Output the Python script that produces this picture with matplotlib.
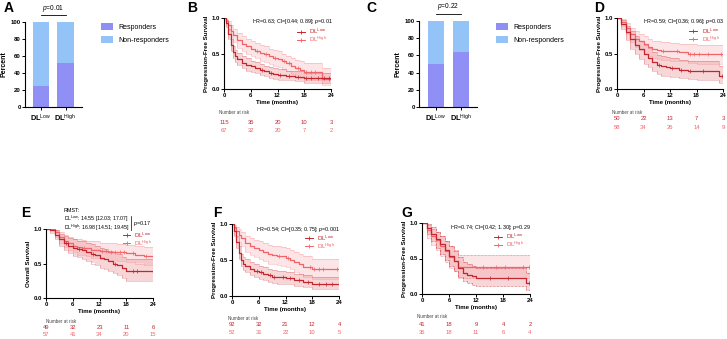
import matplotlib
matplotlib.use("Agg")
import numpy as np
import matplotlib.pyplot as plt
import matplotlib.transforms as mtransforms
from matplotlib.lines import Line2D
from matplotlib.patches import Patch

plt.rcParams['font.family'] = ['Liberation Sans', 'DejaVu Sans']
plt.rcParams['mathtext.fontset'] = 'custom'
plt.rcParams['mathtext.rm'] = 'Liberation Sans'
plt.rcParams['mathtext.bf'] = 'Liberation Sans:bold'
plt.rcParams['mathtext.it'] = 'Liberation Sans:italic'

W, H = 727, 339

# ---------------- data ----------------
groups = ["Low", "High"]
A_resp = [25, 52]
C_resp = [50, 64]
A_p = "p=0.01"
C_p = "p=0.22"
risk_times = [0, 6, 12, 18, 24]

# Panel B
B_low_t = [0, 0.5, 1, 1.5, 2, 2.5, 3, 4, 5, 6, 7, 8, 9, 10, 11, 12, 14, 16, 18, 24]
B_low_s = [1.0, 0.93, 0.78, 0.62, 0.52, 0.46, 0.42, 0.37, 0.34, 0.32, 0.30, 0.27, 0.25, 0.23, 0.21, 0.20, 0.18, 0.17, 0.15, 0.15]
B_low_lo = [1.0, 0.88, 0.71, 0.54, 0.44, 0.38, 0.34, 0.29, 0.26, 0.24, 0.22, 0.20, 0.18, 0.16, 0.14, 0.13, 0.12, 0.11, 0.09, 0.09]
B_low_hi = [1.0, 0.97, 0.85, 0.70, 0.61, 0.55, 0.51, 0.46, 0.43, 0.40, 0.38, 0.35, 0.33, 0.31, 0.29, 0.28, 0.26, 0.25, 0.23, 0.23]
B_low_cens = [8.5, 10.5, 12.5, 14.5, 16.5, 18.5, 19.5, 21, 22.5, 23.5]
B_high_t = [0, 0.5, 1, 1.5, 2, 3, 4, 5, 6, 7, 8, 9, 10, 11, 12, 13, 14, 15, 16, 17, 18, 22, 24]
B_high_s = [1.0, 0.96, 0.90, 0.82, 0.76, 0.69, 0.64, 0.60, 0.57, 0.54, 0.51, 0.49, 0.46, 0.44, 0.42, 0.39, 0.36, 0.32, 0.29, 0.27, 0.24, 0.14, 0.14]
B_high_lo = [1.0, 0.91, 0.83, 0.73, 0.66, 0.58, 0.53, 0.49, 0.46, 0.43, 0.40, 0.38, 0.35, 0.33, 0.31, 0.28, 0.25, 0.21, 0.18, 0.16, 0.13, 0.05, 0.05]
B_high_hi = [1.0, 0.99, 0.96, 0.90, 0.85, 0.79, 0.75, 0.71, 0.68, 0.65, 0.62, 0.60, 0.57, 0.55, 0.53, 0.50, 0.47, 0.44, 0.41, 0.39, 0.36, 0.30, 0.30]
B_high_cens = [7.5, 9.5, 11.5, 13.5, 14.5, 16.5, 18.5, 19.5, 20.5, 23.5]
B_risk_low = [115, 35, 20, 10, 3]
B_risk_high = [67, 32, 20, 7, 2]
B_hr = "HR=0.63; CI=[0.44; 0.89]; p=0.01"

# Panel D
D_low_t = [0, 1, 2, 3, 4, 5, 6, 7, 8, 9, 10, 11, 12, 14, 16, 18, 23, 24]
D_low_s = [1.0, 0.92, 0.80, 0.70, 0.62, 0.56, 0.49, 0.44, 0.38, 0.34, 0.32, 0.31, 0.30, 0.27, 0.26, 0.25, 0.19, 0.19]
D_low_lo = [1.0, 0.84, 0.69, 0.57, 0.49, 0.42, 0.35, 0.31, 0.25, 0.21, 0.19, 0.18, 0.17, 0.15, 0.14, 0.13, 0.08, 0.08]
D_low_hi = [1.0, 0.97, 0.89, 0.81, 0.74, 0.68, 0.62, 0.58, 0.52, 0.48, 0.46, 0.45, 0.44, 0.41, 0.40, 0.39, 0.33, 0.33]
D_low_cens = [9.5, 12.5, 14.5, 16.5, 19.5, 23.8]
D_high_t = [0, 1, 2, 3, 4, 5, 6, 7, 8, 9, 10, 12, 14, 16, 18, 24]
D_high_s = [1.0, 0.95, 0.86, 0.77, 0.71, 0.67, 0.63, 0.59, 0.56, 0.55, 0.54, 0.53, 0.52, 0.50, 0.49, 0.47]
D_high_lo = [1.0, 0.89, 0.77, 0.66, 0.59, 0.55, 0.50, 0.46, 0.43, 0.42, 0.41, 0.40, 0.39, 0.37, 0.35, 0.33]
D_high_hi = [1.0, 0.99, 0.93, 0.86, 0.82, 0.78, 0.75, 0.71, 0.68, 0.67, 0.66, 0.65, 0.64, 0.63, 0.62, 0.61]
D_high_cens = [10.5, 13.5, 16.5, 17.5, 18.5, 20.5, 23.5]
D_risk_low = [50, 22, 13, 7, 3]
D_risk_high = [58, 34, 26, 14, 9]
D_hr = "HR=0.59; CI=[0.36; 0.96]; p=0.03"

# Panel E
E_low_t = [0, 1, 2, 3, 4, 5, 6, 7, 8, 9, 10, 11, 12, 13, 14, 15, 16, 17, 18, 24]
E_low_s = [1.0, 0.98, 0.92, 0.85, 0.80, 0.76, 0.73, 0.71, 0.70, 0.67, 0.64, 0.62, 0.58, 0.56, 0.53, 0.50, 0.48, 0.44, 0.39, 0.38]
E_low_lo = [1.0, 0.94, 0.85, 0.76, 0.70, 0.65, 0.61, 0.59, 0.57, 0.54, 0.50, 0.48, 0.44, 0.42, 0.39, 0.36, 0.33, 0.29, 0.25, 0.24]
E_low_hi = [1.0, 1.0, 0.98, 0.93, 0.90, 0.87, 0.85, 0.83, 0.82, 0.80, 0.78, 0.76, 0.73, 0.71, 0.68, 0.66, 0.64, 0.60, 0.56, 0.55]
E_low_cens = [4.5, 7.5, 10.5, 15.5, 19.5, 20.5]
E_high_t = [0, 1, 2, 3, 4, 5, 6, 7, 8, 9, 10, 12, 14, 16, 18, 20, 22, 24]
E_high_s = [1.0, 1.0, 0.95, 0.88, 0.83, 0.79, 0.76, 0.74, 0.73, 0.72, 0.70, 0.68, 0.67, 0.66, 0.65, 0.63, 0.61, 0.59]
E_high_lo = [1.0, 1.0, 0.89, 0.80, 0.74, 0.69, 0.66, 0.63, 0.62, 0.61, 0.58, 0.56, 0.55, 0.53, 0.52, 0.50, 0.48, 0.45]
E_high_hi = [1.0, 1.0, 0.99, 0.95, 0.91, 0.88, 0.86, 0.85, 0.84, 0.83, 0.82, 0.80, 0.79, 0.78, 0.77, 0.76, 0.74, 0.72]
E_high_cens = [8.5, 12.5, 13.5, 14.5, 15.5, 16.5, 17.5, 19.5, 22.5]
E_risk_low = [49, 32, 23, 11, 6]
E_risk_high = [57, 41, 34, 20, 15]
E_rmst_low = "14.55 [12.03; 17.07]"
E_rmst_high = "16.98 [14.51; 19.45]"
E_p = "p=0.17"

# Panel F
F_low_t = [0, 0.5, 1, 1.5, 2, 2.5, 3, 4, 5, 6, 7, 8, 9, 10, 12, 14, 16, 18, 24]
F_low_s = [1.0, 0.90, 0.75, 0.60, 0.50, 0.45, 0.42, 0.38, 0.35, 0.33, 0.31, 0.29, 0.27, 0.26, 0.25, 0.22, 0.20, 0.17, 0.17]
F_low_lo = [1.0, 0.84, 0.67, 0.51, 0.41, 0.36, 0.33, 0.29, 0.26, 0.24, 0.22, 0.20, 0.18, 0.17, 0.16, 0.14, 0.12, 0.10, 0.10]
F_low_hi = [1.0, 0.95, 0.83, 0.69, 0.59, 0.54, 0.51, 0.47, 0.44, 0.42, 0.40, 0.38, 0.36, 0.35, 0.34, 0.31, 0.29, 0.26, 0.26]
F_low_cens = [5.5, 6.5, 8.5, 9.5, 11.5, 13, 15, 17, 19.5, 21, 22.5]
F_high_t = [0, 0.5, 1, 1.5, 2, 3, 4, 5, 6, 7, 8, 9, 10, 11, 12, 13, 14, 15, 16, 18, 24]
F_high_s = [1.0, 0.96, 0.90, 0.85, 0.80, 0.73, 0.69, 0.66, 0.64, 0.61, 0.58, 0.57, 0.56, 0.55, 0.53, 0.50, 0.47, 0.44, 0.40, 0.37, 0.37]
F_high_lo = [1.0, 0.90, 0.82, 0.75, 0.69, 0.61, 0.57, 0.54, 0.51, 0.48, 0.45, 0.44, 0.43, 0.42, 0.40, 0.37, 0.34, 0.31, 0.27, 0.24, 0.24]
F_high_hi = [1.0, 0.99, 0.96, 0.93, 0.89, 0.84, 0.80, 0.78, 0.76, 0.74, 0.71, 0.70, 0.69, 0.68, 0.66, 0.64, 0.61, 0.58, 0.55, 0.52, 0.52]
F_high_cens = [10.5, 12.5, 17.5, 18.5, 19.5, 20.5, 23.5]
F_risk_low = [92, 32, 21, 12, 4]
F_risk_high = [52, 31, 22, 10, 5]
F_hr = "HR=0.54; CI=[0.35; 0.75]; p=0.001"

# Panel G
G_low_t = [0, 1, 2, 3, 4, 5, 6, 7, 8, 9, 10, 11, 12, 23, 24]
G_low_s = [1.0, 0.93, 0.85, 0.78, 0.70, 0.62, 0.54, 0.46, 0.37, 0.30, 0.27, 0.25, 0.22, 0.15, 0.15]
G_low_lo = [1.0, 0.84, 0.74, 0.65, 0.56, 0.48, 0.40, 0.32, 0.24, 0.18, 0.15, 0.13, 0.11, 0.05, 0.05]
G_low_hi = [1.0, 0.99, 0.94, 0.88, 0.82, 0.75, 0.68, 0.61, 0.52, 0.45, 0.42, 0.40, 0.37, 0.30, 0.30]
G_low_cens = [15, 19, 23.8]
G_high_t = [0, 1, 2, 3, 4, 5, 6, 7, 8, 24]
G_high_s = [1.0, 0.90, 0.82, 0.76, 0.68, 0.60, 0.52, 0.47, 0.38, 0.38]
G_high_lo = [1.0, 0.79, 0.69, 0.62, 0.53, 0.45, 0.37, 0.32, 0.23, 0.23]
G_high_hi = [1.0, 0.97, 0.92, 0.88, 0.81, 0.74, 0.67, 0.62, 0.55, 0.55]
G_high_cens = [13.5, 16.5, 18.5, 22.5, 23.8]
G_risk_low = [41, 18, 9, 4, 2]
G_risk_high = [35, 18, 11, 6, 4]
G_hr = "HR=0.74; CI=[0.42; 1.30]; p=0.29"

# ---------------- style ----------------
C_RESP = "#8F8FF6"
C_NONR = "#94C3F8"
C_LOW = "#C3262E"
C_HIGH = "#F0646A"
C_BAND_LOW = "#E98A8F"
C_BAND_HIGH = "#F7B5B8"

TICK_FS = 4.3
LABEL_FS = 4.4
SMALL_FS = 3.9

fig = plt.figure(figsize=(W / 100, H / 100), dpi=100)
fig.patch.set_facecolor("white")


def fx(px):
    return px / W


def fy(py):
    return 1 - py / H


def add_ax(left, right, top, bottom):
    return fig.add_axes([fx(left), fy(bottom), (right - left) / W, (bottom - top) / H])


def style_axes(ax):
    for s in ["top", "right"]:
        ax.spines[s].set_visible(False)
    for s in ["left", "bottom"]:
        ax.spines[s].set_linewidth(0.8)
    ax.tick_params(axis="both", length=2, width=0.7, labelsize=TICK_FS, pad=1)
    for lab in ax.get_xticklabels() + ax.get_yticklabels():
        lab.set_fontweight("bold")


def letter(px, py, s):
    fig.text(fx(px), fy(py), s, fontsize=10, fontweight="bold", ha="left", va="center")


def italic_p(txt):
    return r"$\mathit{p}$" + txt[1:]


def italic_p_hr(hr):
    head, tail = hr.rsplit("p=", 1)
    return head + r"$\mathit{p}$=" + tail


def bar_panel(ax, resp, ptxt, xl, xr):
    x = [0, 1]
    nonr = [100 - r for r in resp]
    ax.bar(x, resp, width=0.66, color=C_RESP, edgecolor="none")
    ax.bar(x, nonr, bottom=resp, width=0.66, color=C_NONR, edgecolor="none")
    ax.set_xlim(xl, xr)
    ax.set_ylim(0, 100)
    ax.set_yticks([0, 20, 40, 60, 80, 100])
    ax.set_xticks(x)
    ax.set_xticklabels([r"$\mathbf{DL}^{\mathrm{%s}}$" % g for g in groups])
    ax.set_ylabel("Percent", fontsize=5, fontweight="bold", labelpad=2)
    style_axes(ax)
    ax.tick_params(axis="x", length=2.5, labelsize=5.3, pad=1.5)
    ax.plot([0, 1], [108, 108], color="black", lw=0.6, clip_on=False)
    ax.text(0.5, 110, italic_p(ptxt), ha="center", va="bottom", fontsize=4.8)


def bar_legend(px, py):
    handles = [Patch(facecolor=C_RESP, edgecolor="none"), Patch(facecolor=C_NONR, edgecolor="none")]
    fig.legend(handles, ["Responders", "Non-responders"], loc="upper left",
               bbox_to_anchor=(fx(px), fy(py)), frameon=False, fontsize=5,
               handlelength=1.7, handleheight=1.1, labelspacing=0.75, handletextpad=0.8,
               borderpad=0, borderaxespad=0)


def km_panel(ax, low, high, ylabel, risk, risk_rows_px, risk_label_px, hr, hr_px,
             legend_px, dotted_ci=False):
    for (t, s, lo, hi, c), col, bcol in [(high, C_HIGH, C_BAND_HIGH), (low, C_LOW, C_BAND_LOW)]:
        ax.fill_between(t, lo, hi, step="post", color=bcol, alpha=0.35, lw=0)
        ls = (0, (1, 1)) if dotted_ci else "-"
        ealpha = 0.9 if dotted_ci else 0.35
        ax.step(t, lo, where="post", color=col, lw=0.5, alpha=ealpha, ls=ls)
        ax.step(t, hi, where="post", color=col, lw=0.5, alpha=ealpha, ls=ls)
    for (t, s, lo, hi, c), col in [(high, C_HIGH), (low, C_LOW)]:
        ax.step(t, s, where="post", color=col, lw=0.9)
        idx = np.searchsorted(np.asarray(t), np.asarray(c), side="right") - 1
        ax.plot(c, np.asarray(s)[idx], ls="none", marker="|", markersize=2.2, mew=0.5,
                color=col, clip_on=False)
    ax.set_xlim(0, 24)
    ax.set_ylim(0, 1.0)
    ax.set_xticks(risk_times)
    ax.set_yticks([0, 0.5, 1.0])
    ax.set_yticklabels(["0.0", "0.5", "1.0"])
    ax.set_xlabel("Time (months)", fontsize=LABEL_FS, fontweight="bold", labelpad=1.5)
    ax.set_ylabel(ylabel, fontsize=LABEL_FS, fontweight="bold", labelpad=2)
    style_axes(ax)
    tr = mtransforms.blended_transform_factory(ax.transData, fig.transFigure)
    lx, ly = risk_label_px
    fig.text(fx(lx), fy(ly), "Number at risk", fontsize=3.3, ha="left", va="center", color="#444444")
    for row, py, col in zip(risk, risk_rows_px, [C_LOW, C_HIGH]):
        for t, n in zip(risk_times, row):
            ax.text(t, fy(py), str(n), transform=tr, ha="center", va="center",
                    fontsize=4.2, color=col, clip_on=False)
    if hr is not None:
        hx, hy = hr_px
        fig.text(fx(hx), fy(hy), italic_p_hr(hr), fontsize=SMALL_FS, ha="right", va="center")
    lx0, lx1, tx, y1, y2 = legend_px
    for py, col, g in [(y1, C_LOW, "Low"), (y2, C_HIGH, "High")]:
        fig.add_artist(Line2D([fx(lx0), fx(lx1)], [fy(py), fy(py)], color=col, lw=0.7,
                              transform=fig.transFigure))
        fig.add_artist(Line2D([fx((lx0 + lx1) / 2)], [fy(py)], color=col, marker="|",
                              markersize=2.5, mew=0.6, transform=fig.transFigure))
        fig.text(fx(tx), fy(py), r"DL$^{\mathrm{%s}}$" % g, fontsize=4.4, color=col,
                 ha="left", va="center")


# ---------------- panels ----------------
axA = add_ax(25, 82, 22, 107)
bar_panel(axA, A_resp, A_p, -0.65, 1.67)
bar_legend(101, 23)
letter(4, 8, "A")

axC = add_ax(419, 477, 21, 107)
bar_panel(axC, C_resp, C_p, -0.68, 1.64)
bar_legend(496, 23)
letter(366, 8, "C")

axB = add_ax(224, 331, 18, 89)
km_panel(axB, (B_low_t, B_low_s, B_low_lo, B_low_hi, B_low_cens),
         (B_high_t, B_high_s, B_high_lo, B_high_hi, B_high_cens),
         "Progression-Free Survival", [B_risk_low, B_risk_high], [122, 130], (219, 112),
         B_hr, (333, 22), (297, 305, 309, 31.5, 39.5))
letter(187, 8, "B")

axD = add_ax(617, 723, 18, 89)
km_panel(axD, (D_low_t, D_low_s, D_low_lo, D_low_hi, D_low_cens),
         (D_high_t, D_high_s, D_high_lo, D_high_hi, D_high_cens),
         "Progression-Free Survival", [D_risk_low, D_risk_high], [118.5, 127], (612, 112),
         D_hr, (724, 22), (689, 697, 702, 31, 39))
letter(594, 8, "D")

axE = add_ax(46, 153, 229, 298)
km_panel(axE, (E_low_t, E_low_s, E_low_lo, E_low_hi, E_low_cens),
         (E_high_t, E_high_s, E_high_lo, E_high_hi, E_high_cens),
         "Overall Survival", [E_risk_low, E_risk_high], [327.5, 334], (46, 321.5),
         None, None, (123, 130, 134, 235, 243))
fig.text(fx(64), fy(210.5), "RMST:", fontsize=SMALL_FS, ha="left", va="center")
fig.text(fx(64), fy(218.5), r"DL$^{\mathrm{Low}}$: " + E_rmst_low, fontsize=3.8, ha="left", va="center")
fig.text(fx(64), fy(228), r"DL$^{\mathrm{High}}$: " + E_rmst_high, fontsize=3.8, ha="left", va="center")
fig.add_artist(Line2D([fx(131), fx(131)], [fy(216), fy(230)], color="black", lw=0.5,
                      transform=fig.transFigure))
fig.text(fx(133), fy(223), italic_p(E_p), fontsize=SMALL_FS, ha="left", va="center")
letter(21, 213, "E")

axF = add_ax(232, 339, 224, 296)
km_panel(axF, (F_low_t, F_low_s, F_low_lo, F_low_hi, F_low_cens),
         (F_high_t, F_high_s, F_high_lo, F_high_hi, F_high_cens),
         "Progression-Free Survival", [F_risk_low, F_risk_high], [325, 332], (228, 319),
         F_hr, (340, 229), (305, 313, 317, 238, 246))
letter(213, 213, "F")

axG = add_ax(422, 530, 223, 294)
km_panel(axG, (G_low_t, G_low_s, G_low_lo, G_low_hi, G_low_cens),
         (G_high_t, G_high_s, G_high_lo, G_high_hi, G_high_cens),
         "Progression-Free Survival", [G_risk_low, G_risk_high], [325, 332], (417, 317),
         G_hr, (531, 227), (494, 502, 506, 236.5, 244.5), dotted_ci=True)
letter(401, 213, "G")

fig.savefig("out.png", dpi=100, facecolor="white")
